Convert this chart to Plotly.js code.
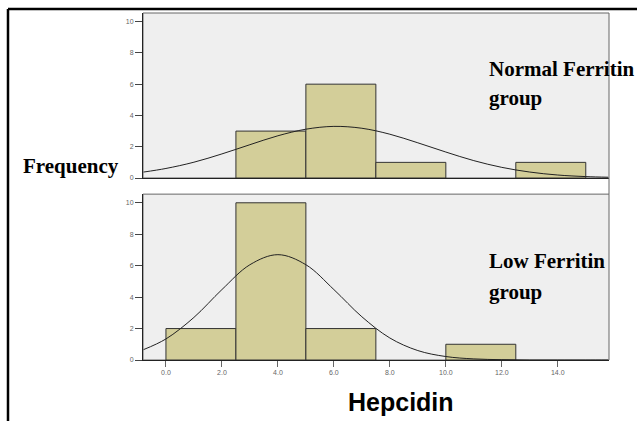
<!DOCTYPE html>
<html>
<head>
<meta charset="utf-8">
<script src="https://cdn.plot.ly/plotly-3.0.1.min.js"></script>
<style>html,body{margin:0;padding:0;background:#fff;}#chart{width:637px;height:421px;}</style>
</head>
<body>
<div id="chart"></div>
<script>
// Histogram bins (width 2.5)
const binCenters = [1.25, 3.75, 6.25, 8.75, 11.25, 13.75];
const normalCounts = [0, 3, 6, 1, 0, 1];
const lowCounts = [2, 10, 2, 0, 1, 0];
// Normal curves
const curveX = [-0.8, 0, 1, 2, 3, 4, 5, 6, 7, 8, 9, 10, 11, 12, 13, 14, 15, 15.8];
const normalCurveY = [0.38, 0.61, 1.01, 1.54, 2.13, 2.70, 3.12, 3.30, 3.18, 2.80, 2.25, 1.66, 1.11, 0.68, 0.38, 0.19, 0.09, 0.05];
const lowCurveY = [0.66, 1.34, 2.71, 4.48, 6.06, 6.70, 6.06, 4.48, 2.75, 1.40, 0.60, 0.22, 0.07, 0.02, 0, 0, 0, 0];
const xTickVals = [0, 2, 4, 6, 8, 10, 12, 14];
const xTickText = ['0.0', '2.0', '4.0', '6.0', '8.0', '10.0', '12.0', '14.0'];
const yTickVals = [0, 2, 4, 6, 8, 10];
const groupLabels = ['Normal Ferritin', 'Low Ferritin'];

function nz(xs, ys) {
  const ox = [], oy = [];
  xs.forEach((x, i) => { if (ys[i] > 0) { ox.push(x); oy.push(ys[i]); } });
  return [ox, oy];
}
const [nx, ny] = nz(binCenters, normalCounts);
const [lx, ly] = nz(binCenters, lowCounts);

const barStyle = {color: '#d3ce99', line: {color: '#333', width: 1}};
const data = [
  {type: 'bar', x: nx, y: ny, width: 2.5, marker: barStyle, xaxis: 'x', yaxis: 'y', hoverinfo: 'skip'},
  {type: 'scatter', mode: 'lines', x: curveX, y: normalCurveY, line: {color: '#222', width: 1, shape: 'spline', smoothing: 1}, xaxis: 'x', yaxis: 'y'},
  {type: 'bar', x: lx, y: ly, width: 2.5, marker: barStyle, xaxis: 'x2', yaxis: 'y2', hoverinfo: 'skip'},
  {type: 'scatter', mode: 'lines', x: curveX, y: lowCurveY, line: {color: '#222', width: 1, shape: 'spline', smoothing: 1}, xaxis: 'x2', yaxis: 'y2'}
];

const xr = [-0.82, 15.83];
const yr = [0, 10.55];
const yAxisCommon = {
  range: yr, tickvals: yTickVals, ticks: 'outside', ticklen: 7, tickcolor: '#444', tickwidth: 1,
  tickfont: {family: 'Liberation Sans, Arial', size: 7, color: '#666'},
  showgrid: false, zeroline: false, showline: true, linecolor: '#222', linewidth: 1, fixedrange: true
};
const serif = 'Liberation Serif, Times New Roman, serif';
const labelFont = {family: serif, size: 21, color: '#000', weight: 'bold'};

const layout = {
  width: 637, height: 421,
  margin: {l: 143, r: 28, t: 13, b: 61, pad: 0},
  paper_bgcolor: '#ffffff', plot_bgcolor: '#efefef',
  showlegend: false, bargap: 0,
  xaxis: {domain: [0, 1], anchor: 'y', range: xr, showticklabels: false, ticks: '', showgrid: false, zeroline: false, showline: true, linecolor: '#222', linewidth: 1},
  yaxis: Object.assign({domain: [0.5245, 1], anchor: 'x'}, yAxisCommon),
  xaxis2: {domain: [0, 1], anchor: 'y2', range: xr, tickvals: xTickVals, ticktext: xTickText, ticks: 'outside', ticklen: 6, tickcolor: '#666',
           tickfont: {family: 'Liberation Sans, Arial', size: 7, color: '#666'}, showgrid: false, zeroline: false, showline: true, linecolor: '#222', linewidth: 1},
  yaxis2: Object.assign({domain: [0, 0.478], anchor: 'x2'}, yAxisCommon),
  shapes: [
    {type: 'rect', xref: 'x domain', yref: 'y domain', x0: 0, x1: 1, y0: 0, y1: 1, line: {color: '#666', width: 1}, layer: 'below'},
    {type: 'rect', xref: 'x2 domain', yref: 'y2 domain', x0: 0, x1: 1, y0: 0, y1: 1, line: {color: '#666', width: 1}, layer: 'below'},
    {type: 'line', xref: 'paper', yref: 'paper', x0: 1, x1: 1, y0: 0.478, y1: 0.5245, line: {color: '#666', width: 1}},
    {type: 'line', xref: 'paper', yref: 'paper', x0: -0.2897, x1: 1.07, y0: 1.0115, y1: 1.0115, line: {color: '#000', width: 2.5}},
    {type: 'line', xref: 'paper', yref: 'paper', x0: -0.2897, x1: -0.2897, y0: 1.0115, y1: -0.2, line: {color: '#000', width: 2.5}}
  ],
  annotations: [
    {text: 'Frequency', xref: 'paper', yref: 'paper', x: -0.2618, y: 0.559, xanchor: 'left', yanchor: 'middle', showarrow: false, font: labelFont},
    {text: 'Hepcidin', xref: 'paper', yref: 'paper', x: 0.5536, y: -0.121, xanchor: 'center', yanchor: 'middle', showarrow: false,
     font: {family: 'Liberation Sans, Arial', size: 25, color: '#000', weight: 'bold'}},
    {text: groupLabels[0], xref: 'paper', yref: 'paper', x: 0.738, y: (360 - 69) / 347, xanchor: 'left', yanchor: 'middle', showarrow: false, font: labelFont},
    {text: 'group', xref: 'paper', yref: 'paper', x: 0.738, y: (360 - 98) / 347, xanchor: 'left', yanchor: 'middle', showarrow: false, font: labelFont},
    {text: groupLabels[1], xref: 'paper', yref: 'paper', x: 0.738, y: (360 - 261) / 347, xanchor: 'left', yanchor: 'middle', showarrow: false, font: labelFont},
    {text: 'group', xref: 'paper', yref: 'paper', x: 0.738, y: (360 - 292) / 347, xanchor: 'left', yanchor: 'middle', showarrow: false, font: labelFont}
  ]
};

Plotly.newPlot('chart', data, layout, {displayModeBar: false, staticPlot: true});
</script>
</body>
</html>
